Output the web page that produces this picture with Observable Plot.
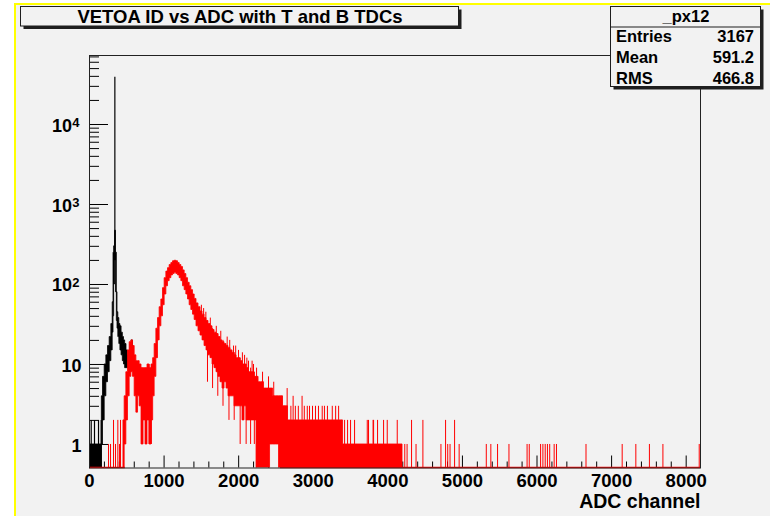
<!DOCTYPE html>
<html><head><meta charset="utf-8">
<script src="https://cdn.jsdelivr.net/npm/d3@7"></script>
<script src="https://cdn.jsdelivr.net/npm/@observablehq/plot@0.6"></script>
<style>
body{margin:0;background:#fff;}
#chart{width:770px;height:516px;}
svg text{font-family:"Liberation Sans",Arial,Helvetica,sans-serif;}
</style></head><body><div id="chart"></div>
<script>
// ---- text ----
const title = "VETOA ID vs ADC with T and B TDCs";
const xLabel = "ADC channel";
const statsName = "_px12";
const statsLabels = ["Entries", "Mean", "RMS"];
const statsValues = ["3167", "591.2", "466.8"];

// ---- axes ----
const xMajor = [0, 1000, 2000, 3000, 4000, 5000, 6000, 7000, 8000];
const xMinor = d3.range(0, 8192, 200).filter(v => v % 1000 !== 0);
const yMajor = [1, 10, 100, 1000, 10000];
const yPlainLabels = [1, 10];
const yPowLabels = [2, 3, 4];
const yMinor = [0.6, 0.7, 0.8, 0.9].concat(...[1, 10, 100, 1000, 10000].map(d => [2,3,4,5,6,7,8,9].map(k => k * d))).filter(v => v < 72900);

// ---- black histogram (ADC channel, upper/lower envelope of counts) ----
const blackCh = [0,161,170,192,215,237,259,282,304,318,326,335,349,362,371,380,393,407,422,438,456,469,487,505,523,540,557,573,590];
const blackHi = [1,1,4,7,10,13,17,22,32,60,250,300,470,250,80,45,38,32,30,25,22,20,18,15,13,12,18,20,14];
const blackLo = [0.4,0.4,1,2,4,6,8,11,15,25,40,100,200,80,35,28,22,18,15,13,11,10,9,9,9,8,9,10,10];
const blackSpikeCh = [23, 67, 121, 157, 340];
const blackSpikeLo = [0.4, 0.4, 0.4, 0.4, 200];
const blackSpikeHi = [2, 2, 2, 2, 39000];

// ---- red histogram ----
const redCh = [460,483,505,527,550,573,594,617,640,661,684,711,738,764,791,818,845,862,885,908,929,952,975,996,1019,1042,1063,1086,1109,1130,1153,1176,1198,1220,1243,1265,1287,1310,1332,1354,1377,1399,1421,1448,1475,1502,1529,1556,1582,1609,1636,1663,1690,1716,1743,1770,1797,1824,1851,1877,1904,1931,1958,1985,2012,2038,2065,2092,2119,2146,2172,2199,2226,2253,2280,2320,2360,2400,2441,2481,2521,2561,2628,2695,2830,2964,3098,3366,3433,4197];
const redHi = [2,4,8,15,19,20,17,13,11,11,10,9,9,9,10,9,10,12,18,28,38,52,65,90,120,145,160,175,185,195,198,195,185,175,165,150,135,120,105,95,85,75,66,58,52,46,42,38,35,32,30,27,25,24,22,20,19,18,17,16,15,14,13,12,12,11,10,10,9,8,8,8,7,7,6,6,5,5,5,4,4,4,3,2,2,2,2,2,1,1];
const redLo = [0.4,1,2,4,7,8,7,4,2.5,4,3,1,2,1,2,1,2,4,7,12,20,30,40,55,75,95,110,120,130,135,140,135,130,120,110,95,85,75,65,55,48,42,36,30,26,23,20,17,15,13,12,10,9,8,7,6,5,6,5,4,4,4,3,3,3,3,2,3,2,2,2,2,2,0.4,0.4,0.4,0.4,0.4,1,1,1,0.4,0.4,0.4,0.4,0.4,0.4,0.4,0.4,0.4];
const redSpikeCh = [255,282,322,349,380,402,416,456,
  700,760,800,830,1500,1530,1560,1582,1620,1650,1700,1720,1760,1790,1870,1880,1940,1960,2020,2050,2100,2110,2160,2180,2210,
  1846,1931,1998,2079,2132,2199,2240,2320,2400,2470,
  2580,2610,2650,2700,2730,2760,2800,2850,2880,2920,2950,2990,3030,3070,3120,3150,3190,3255,3300,3340,3380,3420,3460,
  3500,3554,3724,3741,3802,3809,3862,3943,3992,4126,
  4227,4258,4318,4378,4470,4712,4774,4803,4834,4895,4956,5320,5381,5471,5624,5867,5896,6048,6079,6110,6140,6170,6230,6261,6657,7142,7325,7507,7688,8175];
const redSpikeLo = [0.4,0.4,0.4,0.4,0.4,0.4,0.4,0.4,
  1,1,1,1,25,20,18,6,14,5,10,4,8,3,2,6,2,4,1,3,1,3,1,3,1,
  10,8,6,5,4,4,3,2,2,2,
  2,2,2,2,2,2,2,2,2,2,2,2,2,2,2,2,2,2,2,2,1,1,1,
  1,1,1,1,1,1,1,1,1,1,
  0.4,0.4,0.4,0.4,0.4,0.4,0.4,0.4,0.4,0.4,0.4,0.4,0.4,0.4,0.4,0.4,0.4,0.4,0.4,0.4,0.4,0.4,0.4,0.4,0.4,0.4,0.4,0.4,0.4,0.4];
const redSpikeHi = [1,1,2,1,2,1,2,2,
  9,9,10,9,55,50,45,35,38,28,30,24,26,20,16,20,14,17,12,14,10,12,9,11,8,
  22,17,15,13,11,10,9,8,7,6,
  4,3,5,3,4,3,3,4,3,3,3,3,3,3,3,3,3,3,3,3,2,2,2,
  2,2,2,2,2,2,2,2,2,2,
  1,1,2,1,2,1,2,1,1,2,1,1,1,1,1,1,1,1,1,1,1,1,1,1,1,1,1,1,1,1];
const redZeroFrom = [0, 2560];
const redZeroTo = [480, 8192];

// ---- tables ----
const blackBand = blackCh.map((x, i) => ({x, hi: blackHi[i], lo: blackLo[i]}));
const blackSpikes = blackSpikeCh.map((x, i) => ({x, lo: blackSpikeLo[i], hi: blackSpikeHi[i]}));
const redBand = redCh.map((x, i) => ({x, hi: redHi[i], lo: redLo[i]}));
const redSpikes = redSpikeCh.map((x, i) => ({x, lo: redSpikeLo[i], hi: redSpikeHi[i]}));
const redZero = redZeroFrom.map((a, i) => ({x1: a, x2: redZeroTo[i]}));

const BG = "#f2f2f2";
const W = 770, H = 516, ML = 89, MR = 70, MT = 55, MB = 48.5;
const FW = W - ML - MR, FH = H - MT - MB;
const yMin = 0.508, yMax = 72900;
const font = "bold";

const chart = Plot.plot({
  width: W, height: H,
  marginLeft: ML, marginRight: MR, marginTop: MT, marginBottom: MB,
  style: {background: BG, overflow: "visible"},
  x: {domain: [0, 8192], axis: null},
  y: {type: "log", domain: [yMin, yMax], axis: null},
  marks: [
    Plot.tickX(xMajor, {x: d => d, insetTop: FH - 12, stroke: "#000"}),
    Plot.tickX(xMinor, {x: d => d, insetTop: FH - 6, stroke: "#000"}),
    Plot.tickY(yMajor, {y: d => d, insetRight: FW - 19, stroke: "#000"}),
    Plot.tickY(yMinor, {y: d => d, insetRight: FW - 10, stroke: "#000"}),
    Plot.areaY(blackBand, {x: "x", y1: "lo", y2: "hi", curve: "step", fill: "#000", stroke: "#000", strokeWidth: 0.8, clip: true}),
    Plot.ruleX(blackSpikes, {x: "x", y1: "lo", y2: "hi", stroke: "#000", strokeWidth: 1.2, clip: true}),
    Plot.ruleY(redZero, {x1: "x1", x2: "x2", y: yMin, stroke: "#ff0000", strokeWidth: 1.5, dy: -0.5}),
    Plot.areaY(redBand, {x: "x", y1: "lo", y2: "hi", curve: "step", fill: "#ff0000", stroke: "#ff0000", strokeWidth: 0.8, clip: true}),
    Plot.ruleX(redSpikes, {x: "x", y1: "lo", y2: "hi", stroke: "#ff0000", strokeWidth: 1, clip: true}),
    Plot.frame({stroke: "#222", strokeWidth: 1}),
    Plot.text(xMajor, {x: d => d, text: d => String(d), frameAnchor: "bottom", lineAnchor: "bottom", dy: 18.5, fontSize: 18.5, fontWeight: font, fill: "#000"}),
    Plot.text([xLabel], {text: d => d, frameAnchor: "bottom-right", textAnchor: "end", lineAnchor: "bottom", dy: 39.5, fontSize: 19.5, fontWeight: font, fill: "#000"}),
    Plot.text(yPlainLabels, {y: d => d, text: d => String(d), frameAnchor: "left", textAnchor: "end", lineAnchor: "bottom", dx: -8, dy: 7.5, fontSize: 18, fontWeight: font, fill: "#000"}),
    Plot.text(yPowLabels, {y: d => Math.pow(10, d), text: () => "10", frameAnchor: "left", textAnchor: "end", lineAnchor: "bottom", dx: -17.5, dy: 7, fontSize: 18, fontWeight: font, fill: "#000"}),
    Plot.text(yPowLabels, {y: d => Math.pow(10, d), text: d => String(d), frameAnchor: "left", textAnchor: "start", lineAnchor: "bottom", dx: -17.3, dy: 2.5, fontSize: 13, fontWeight: font, fill: "#000"})
  ]
});
document.getElementById("chart").appendChild(chart);

// ---- decorations: title pave, stats box, canvas border ----
const svg = d3.select(chart);
function pave(x, y, w, h) {
  const g = svg.append("g").attr("text-anchor", "start");
  g.append("rect").attr("x", x + 3).attr("y", y + 3).attr("width", w).attr("height", h).attr("fill", "#1e1e1e");
  g.append("rect").attr("x", x).attr("y", y).attr("width", w).attr("height", h).attr("fill", BG).attr("stroke", "#1e1e1e").attr("stroke-width", 1);
  return g;
}
const tg = pave(20.5, 6.5, 438, 19.5);
tg.append("text").attr("x", 240).attr("y", 23).attr("text-anchor", "middle").attr("font-size", 18.5).attr("font-weight", "bold").attr("fill", "#000").text(title);

const sg = pave(610.5, 6.5, 150, 80);
sg.append("line").attr("x1", 610.5).attr("x2", 760.5).attr("y1", 27).attr("y2", 27).attr("stroke", "#1e1e1e");
sg.append("text").attr("x", 686).attr("y", 22).attr("text-anchor", "middle").attr("font-size", 16.5).attr("font-weight", "bold").attr("fill", "#000").text(statsName);
statsLabels.forEach((t, i) => {
  const yy = 42 + i * 20.8;
  sg.append("text").attr("x", 616).attr("y", yy).attr("text-anchor", "start").attr("font-size", 16.5).attr("font-weight", "bold").attr("fill", "#000").text(t);
  sg.append("text").attr("x", 754).attr("y", yy).attr("text-anchor", "end").attr("font-size", 16.5).attr("font-weight", "bold").attr("fill", "#000").text(statsValues[i]);
});

svg.append("rect").attr("x", 0).attr("y", 0).attr("width", 14).attr("height", H).attr("fill", "#fff");
svg.append("rect").attr("x", 0).attr("y", 0).attr("width", W).attr("height", 3).attr("fill", "#fff");
svg.append("rect").attr("x", 14).attr("y", 3).attr("width", 2).attr("height", H - 3).attr("fill", "#ffff00");
svg.append("rect").attr("x", 14).attr("y", 3).attr("width", W - 14).attr("height", 2).attr("fill", "#ffff00");
</script></body></html>
